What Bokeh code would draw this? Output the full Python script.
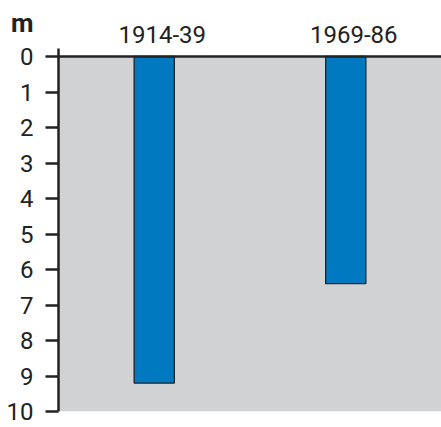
from bokeh.plotting import figure
from bokeh.models import (Range1d, FixedTicker, BoxAnnotation, Span, LinearAxis,
                          FactorRange, ColumnDataSource)
from bokeh.core.properties import value
from bokeh.embed import file_html
from bokeh.resources import INLINE

periods = ["1914-39", "1969-86"]
depths = [9.2, 6.4]
y_ticks = [0, 1, 2, 3, 4, 5, 6, 7, 8, 9, 10]
unit_label = "m"

FONT = "Roboto"
INK = "#222222"

# layout (pixels)
FRAME_LEFT, FRAME_W = 58, 383
FRAME_H, BOTTOM = 411, 16
ZERO_PX = 56
PX_PER_M = (FRAME_H - ZERO_PX) / 10.0
y_top = -ZERO_PX / PX_PER_M          # frame reaches the top of the canvas
label_y = -(ZERO_PX - 34) / PX_PER_M  # baseline of the period labels
unit_y = -(ZERO_PX - 22.5) / PX_PER_M  # position of the unit label

p = figure(frame_width=FRAME_W, frame_height=FRAME_H,
           x_range=FactorRange(*periods), y_range=Range1d(10, y_top),
           output_backend="svg", toolbar_location=None,
           x_axis_location=None, title=None,
           min_border_left=FRAME_LEFT, min_border_right=0,
           min_border_top=0, min_border_bottom=BOTTOM)

p.background_fill_color = "white"
p.border_fill_color = "white"
p.outline_line_color = None
p.xgrid.visible = False
p.ygrid.visible = False

p.add_layout(BoxAnnotation(bottom=0, top=10, fill_color="#d1d2d4",
                           fill_alpha=1.0, line_color=None, level="underlay"))

src = ColumnDataSource(dict(period=periods, depth=depths,
                            start=[0] * len(periods),
                            ly=[label_y] * len(periods)))

p.vbar(x="period", top="start", bottom="depth", width=0.21, source=src,
       fill_color="#0079c1", line_color=INK, line_width=1.3)

p.add_layout(Span(location=0, dimension="width", line_color=INK,
                  line_width=2.5))

p.text(x="period", y="ly", text="period", source=src, x_offset=8,
       text_font=value(FONT), text_font_size="24px", text_color=INK,
       text_align="center", text_baseline="alphabetic")

ya = p.yaxis[0]
ya.ticker = FixedTicker(ticks=y_ticks)
ya.bounds = (-0.22, 10)
ya.major_tick_out = 13
ya.major_tick_in = 0
ya.minor_tick_out = 0
ya.minor_tick_in = 0
ya.major_tick_line_width = 2.5
ya.major_tick_line_color = INK
ya.axis_line_width = 2.5
ya.axis_line_color = INK
ya.major_label_text_font = FONT
ya.major_label_text_font_size = "24px"
ya.major_label_text_color = INK
ya.major_label_standoff = 12

# unit label as an outer axis with a single labelled tick
ua = LinearAxis(ticker=FixedTicker(ticks=[unit_y]),
                major_label_overrides={unit_y: unit_label},
                axis_line_color=None, major_tick_line_color=None,
                minor_tick_line_color=None, major_tick_out=0, major_tick_in=0,
                minor_tick_out=0, minor_tick_in=0,
                major_label_standoff=-30,
                major_label_text_font=FONT, major_label_text_font_size="26px",
                major_label_text_font_style="bold", major_label_text_color=INK)
p.add_layout(ua, "left")

open("out.html", "w").write(file_html(p, INLINE))
